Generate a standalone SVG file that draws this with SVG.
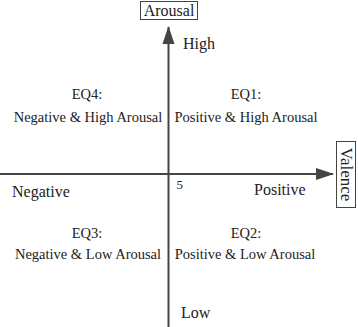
<svg xmlns="http://www.w3.org/2000/svg" width="358" height="327" viewBox="0 0 358 327">
<style>
text{font-family:'Liberation Serif','Times New Roman','DejaVu Serif',serif;fill:#222}
.q{font-size:14.5px}
.l{font-size:16px}
.ax{stroke:#444;stroke-width:2;fill:none}
.box{fill:#fff;stroke:#444;stroke-width:1}
.c{text-anchor:middle}
</style>
<defs>
<marker id="ah" markerWidth="18" markerHeight="14" refX="17" refY="7" orient="auto" markerUnits="userSpaceOnUse"><path d="M0,1 L18,7 L0,13 Z" fill="#444"/></marker>
</defs>
<rect width="358" height="327" fill="#fff"/>
<g id="connectors">
<line class="ax" x1="168.5" y1="327" x2="168.5" y2="27" marker-end="url(#ah)"/>
<line class="ax" x1="0" y1="174" x2="333" y2="174" marker-end="url(#ah)"/>
</g>
<g id="arousal">
<rect class="box" x="140.5" y="1.5" width="57" height="18"/>
<text class="c l" x="169" y="15.5">Arousal</text>
</g>
<g id="valence">
<rect class="box" x="336.5" y="141.5" width="19" height="66"/>
<text class="c" x="346" y="174.5" transform="rotate(90 346 174.5)" dy="5.5" font-size="17">Valence</text>
</g>
<g id="high"><text class="l" x="183" y="49">High</text></g>
<g id="low"><text class="l" x="181" y="318">Low</text></g>
<g id="negative"><text class="l" x="12" y="197">Negative</text></g>
<g id="positive"><text class="l" x="254" y="195">Positive</text></g>
<g id="five"><text x="176.5" y="189" font-size="13">5</text></g>
<g id="eq4"><text class="c q" x="87" y="99">EQ4:</text><text class="c q" x="88" y="122">Negative &amp; High Arousal</text></g>
<g id="eq1"><text class="c q" x="246" y="99">EQ1:</text><text class="c q" x="246" y="122">Positive &amp; High Arousal</text></g>
<g id="eq3"><text class="c q" x="87" y="238">EQ3:</text><text class="c q" x="88" y="259">Negative &amp; Low Arousal</text></g>
<g id="eq2"><text class="c q" x="246" y="238">EQ2:</text><text class="c q" x="245" y="259">Positive &amp; Low Arousal</text></g>
</svg>
